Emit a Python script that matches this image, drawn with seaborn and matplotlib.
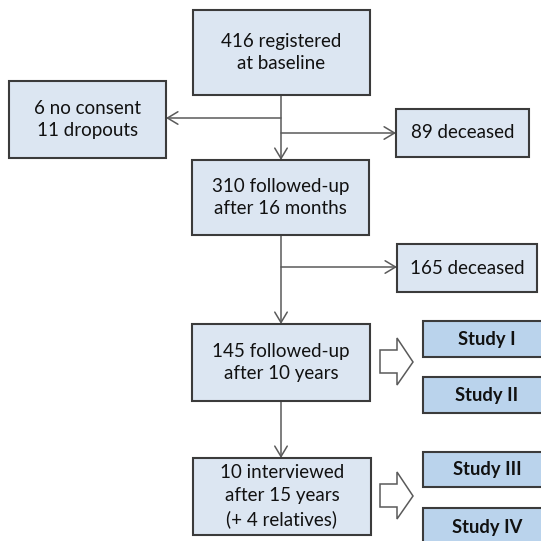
import matplotlib
matplotlib.use("Agg")
import matplotlib.pyplot as plt
from matplotlib.patches import Rectangle, Polygon, FancyArrowPatch
import seaborn as sns

# flowchart data
registered = 416
no_consent = 6
dropouts = 11
deceased_1 = 89
followed_16m = 310
deceased_2 = 165
followed_10y = 145
interviewed = 10
relatives = 4
studies = ["Study I", "Study II", "Study III", "Study IV"]

box_labels = [
    f"{registered} registered\nat baseline",
    f"{no_consent} no consent\n{dropouts} dropouts",
    f"{deceased_1} deceased",
    f"{followed_16m} followed-up\nafter 16 months",
    f"{deceased_2} deceased",
    f"{followed_10y} followed-up\nafter 10 years",
    f"{interviewed} interviewed\nafter 15 years\n(+ {relatives} relatives)",
]

sns.set_theme(style="white")
plt.rcParams["font.family"] = ["Lato", "DejaVu Sans"]

# layout in pixel units (x0, y0, x1, y1)
box_pos = [
    (193, 10, 370, 95),
    (9, 81, 166, 158),
    (396, 109, 529, 157),
    (192, 160, 369, 235),
    (397, 244, 537, 292),
    (192, 324, 370, 401),
    (193, 458, 371, 535),
]
study_pos = [
    (423, 321, 560, 357),
    (423, 377, 560, 413),
    (423, 452, 560, 487),
    (423, 508, 560, 560),
]

fill = "#dce6f2"
study_fill = "#bad3ec"
edge = "#3b3b3b"
line_c = "#5a5a5a"

fig, ax = plt.subplots(figsize=(5.41, 5.41), dpi=100)
fig.subplots_adjust(0, 0, 1, 1)
ax.set_xlim(0, 541)
ax.set_ylim(541, 0)
ax.axis("off")

for pos, lab in zip(box_pos, box_labels):
    x0, y0, x1, y1 = pos
    ax.add_patch(Rectangle((x0, y0), x1 - x0, y1 - y0, facecolor=fill,
                           edgecolor=edge, linewidth=1.5, zorder=2))
    ax.text((x0 + x1) / 2, (y0 + y1) / 2, lab, ha="center", va="center",
            fontsize=13.5, color="#111111", linespacing=1.42, zorder=3)

for pos, lab in zip(study_pos, studies):
    x0, y0, x1, y1 = pos
    ax.add_patch(Rectangle((x0, y0), x1 - x0, y1 - y0, facecolor=study_fill,
                           edgecolor=edge, linewidth=1.5, zorder=2))
    cy = (y0 + y1) / 2 if y1 < 541 else y0 + 19
    ax.text(487, cy, lab, ha="center", va="center", fontsize=13.2,
            fontweight="bold", color="#111111", zorder=3)


def arrow(p, q):
    ax.add_patch(FancyArrowPatch(p, q, arrowstyle="->,head_length=0.75,head_width=0.45",
                                 mutation_scale=10, color=line_c, lw=1.1,
                                 shrinkA=0, shrinkB=0, zorder=1))


cx = 281
arrow((cx, 95), (cx, 160))
arrow((cx, 118), (166, 118))
arrow((cx, 133), (396, 133))
arrow((cx, 235), (cx, 324))
arrow((cx, 267), (397, 267))
arrow((cx, 401), (cx, 458))


def block_arrow(tip_y):
    pts = [(380, tip_y - 12), (397, tip_y - 12), (397, tip_y - 24),
           (413, tip_y), (397, tip_y + 23), (397, tip_y + 11), (380, tip_y + 11)]
    ax.add_patch(Polygon(pts, closed=True, facecolor="white",
                         edgecolor=line_c, linewidth=1.1, zorder=2))


block_arrow(362)
block_arrow(496)

fig.savefig("out.png", dpi=100)
